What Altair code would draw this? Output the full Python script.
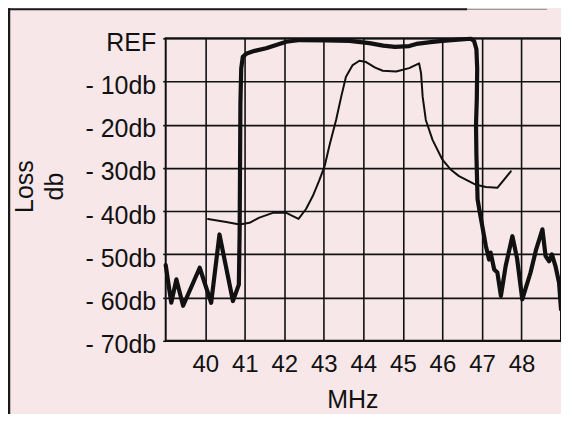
import altair as alt
import pandas as pd

# ---- data ----
thick_mhz = [39.00, 39.14, 39.27, 39.44, 39.86, 40.15, 40.36, 40.70, 40.85, 40.87,
             40.88, 40.89, 40.91, 40.95, 41.05, 41.25, 41.54, 42.05, 42.40, 43.06,
             43.65, 44.15, 44.50, 44.80, 45.16, 45.34, 45.70, 46.00, 46.40, 46.72,
             46.80, 46.86, 46.88, 46.87, 46.85, 46.86, 46.89, 46.95, 47.01, 47.10,
             47.18, 47.22, 47.31, 47.39, 47.48, 47.60, 47.77, 47.89, 48.02, 48.23,
             48.37, 48.53, 48.61, 48.70, 48.77, 48.86, 48.95, 49.00]
thick_db = [-52.5, -61.2, -55.8, -61.9, -53.1, -61.2, -45.4, -60.8, -57.0, -45.0,
            -30.0, -15.0, -7.0, -4.3, -3.5, -2.9, -2.3, -0.8, -0.4, -0.5,
            -0.6, -1.1, -1.7, -2.0, -1.8, -1.3, -0.9, -0.6, -0.3, -0.1,
            -0.6, -2.5, -7.0, -14.0, -20.0, -27.0, -37.3, -40.5, -43.5, -48.1,
            -51.2, -49.6, -53.5, -54.2, -59.6, -52.7, -45.8, -51.0, -60.4, -54.2,
            -48.9, -44.2, -50.4, -51.6, -50.0, -52.7, -56.5, -62.7]

thin_mhz = [40.07, 40.53, 40.87, 41.12, 41.37, 41.71, 42.05, 42.36, 42.55, 42.72,
            42.88, 43.02, 43.15, 43.31, 43.44, 43.56, 43.73, 43.90, 44.07, 44.30,
            44.49, 44.83, 45.16, 45.41, 45.46, 45.50, 45.58, 45.75, 46.00, 46.20,
            46.42, 46.85, 47.10, 47.39, 47.73]
thin_db = [-41.8, -42.5, -43.1, -42.7, -41.5, -40.4, -40.4, -41.8, -39.5, -36.5,
           -33.0, -29.6, -24.5, -18.9, -13.5, -8.9, -6.2, -5.2, -5.5, -6.8,
           -7.5, -7.7, -6.9, -5.8, -8.1, -13.5, -18.9, -23.5, -28.1, -30.3,
           -31.9, -33.9, -34.4, -34.6, -30.8]

x_ticks = [40, 41, 42, 43, 44, 45, 46, 47, 48]
y_ticks = [0, -10, -20, -30, -40, -50, -60, -70]
y_labels = ["REF", "- 10db", "- 20db", "- 30db", "- 40db", "- 50db", "- 60db", "- 70db"]

# ---- build table ----
rows = []
for i, (m, d) in enumerate(zip(thick_mhz, thick_db)):
    rows.append({"trace": "wide", "i": i, "mhz": m, "db": d})
for i, (m, d) in enumerate(zip(thin_mhz, thin_db)):
    rows.append({"trace": "narrow", "i": i, "mhz": m, "db": d})
df = pd.DataFrame(rows)

label_expr = " : ".join(f"datum.value == {v} ? '{l}'" for v, l in zip(y_ticks, y_labels)) + " : ''"

FONT = "Liberation Sans"
INK = "#111111"

xs = alt.X("mhz:Q", scale=alt.Scale(domain=[39, 49], nice=False, zero=False),
           axis=alt.Axis(values=x_ticks, format="d", title="MHz", grid=True,
                         gridColor=INK, gridWidth=1.6, gridOpacity=1,
                         domain=False, ticks=False,
                         labelFont=FONT, labelFontSize=24, labelColor=INK,
                         labelBaseline="alphabetic", labelPadding=31,
                         titleFont=FONT, titleFontSize=25, titleFontWeight="normal",
                         titleColor=INK, titleX=187, titleY=67,
                         titleBaseline="alphabetic", titleAlign="center"))
ys = alt.Y("db:Q", scale=alt.Scale(domain=[-70, 0], nice=False, zero=False),
           axis=alt.Axis(values=y_ticks, labelExpr=label_expr, title=["Loss", "db"],
                         grid=True, gridColor=INK, gridWidth=1.6, gridOpacity=1,
                         domain=False, ticks=True, tickSize=3, tickColor=INK, tickWidth=1.6,
                         labelFont=FONT, labelFontSize=25, labelColor=INK,
                         labelBaseline="alphabetic", labelOffset=12, labelPadding=7,
                         labelAlign="right",
                         titleFont=FONT, titleFontSize=25, titleFontWeight="normal",
                         titleColor=INK, titleAngle=270, titleLineHeight=30,
                         titleX=-133, titleY=148, titleBaseline="alphabetic",
                         titleAlign="center"))

base = alt.Chart(df)

wide = base.transform_filter(alt.datum.trace == "wide").mark_line(
    color=INK, strokeWidth=4.2, strokeJoin="round", strokeCap="round"
).encode(x=xs, y=ys, order="i:Q")

narrow = base.transform_filter(alt.datum.trace == "narrow").mark_line(
    color=INK, strokeWidth=2, strokeJoin="round", strokeCap="round"
).encode(x="mhz:Q", y="db:Q", order="i:Q")

frame_left = alt.Chart(pd.DataFrame({"k": [0]})).mark_rule(color="#1a1a1a", strokeWidth=2.5).encode(
    x=alt.value(-157), y=alt.value(-30), y2=alt.value(400))
frame_top = alt.Chart(pd.DataFrame({"k": [0]})).mark_rule(color="#1a1a1a", strokeWidth=2).encode(
    x=alt.value(-158), x2=alt.value(302), y=alt.value(-29))
frame_top2 = alt.Chart(pd.DataFrame({"k": [0]})).mark_rule(color="#9a9a9a", strokeWidth=1.2).encode(
    x=alt.value(302), x2=alt.value(382), y=alt.value(-29))

chart = alt.layer(frame_left, frame_top, frame_top2, narrow, wide).properties(
    width=396, height=303,
    background="#f7e7e9",
    padding={"left": 158, "top": 30, "right": 0, "bottom": 73},
    autosize=alt.AutoSizeParams(type="none"),
).configure_view(stroke=INK, strokeWidth=2)

chart.save("out.html", embed_options={"renderer": "svg", "actions": False})
